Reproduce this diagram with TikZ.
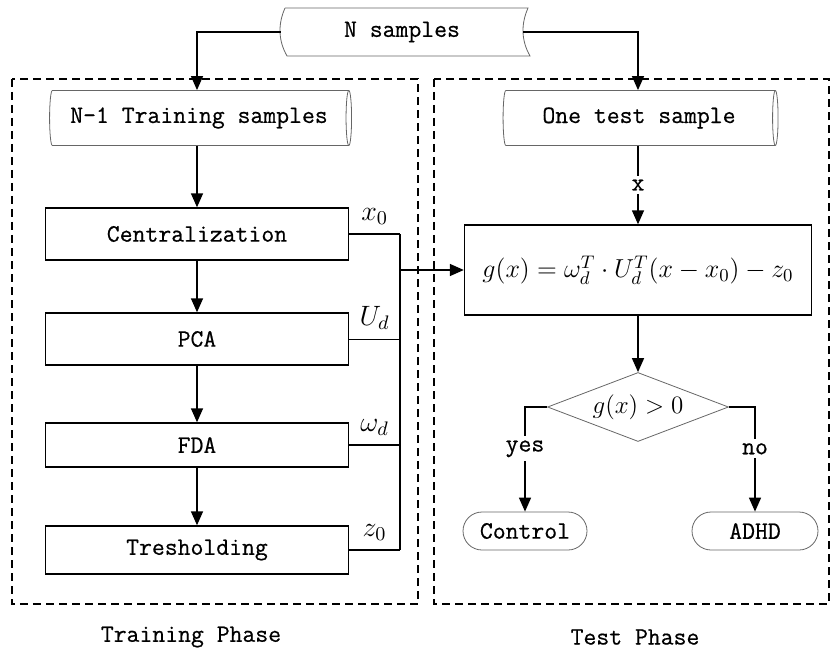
\RequirePackage{fix-cm}
\documentclass[tikz,border=0pt]{standalone}
\usepackage{fontspec}
\setmonofont{Latin Modern Mono}[FakeBold=0.6]
\usetikzlibrary{arrows.meta}
\usetikzlibrary{shapes.geometric,shapes.misc}
\begin{document}
\begin{tikzpicture}[x=.5pt,y=.5pt,
  every node/.style={font=\ttfamily\fontsize{12.5}{14}\selectfont},
  procbox/.style={draw,line width=.7pt,minimum width=151.5pt,minimum height=26pt,inner sep=0pt},
  store/.style={cylinder,draw=gray!80!black,shape aspect=.26,minimum width=27.5pt,inner sep=0pt},
  term/.style={rounded rectangle,draw=gray!80!black,minimum height=19pt,inner sep=0pt},
  flow/.style={line width=.75pt,->,>={Triangle[length=7pt,width=6pt]}},
  phase/.style={dashed,dash pattern=on 4pt off 2.5pt,line width=.75pt}]
\useasboundingbox (0,0) rectangle (834,-652);
\draw[phase] (12,-79) rectangle (418,-604);
\draw[phase] (434,-79) rectangle (829,-604);
\node (trainlbl) at (191,-637) {Training Phase};
\node (testlbl) at (635,-637) {Test Phase};
\draw[gray!80!black] (285,-8) -- (528,-8) .. controls (521,-24) and (521,-40) .. (530,-56) -- (287,-56) .. controls (278,-40) and (278,-24) .. (285,-8);
\node[minimum width=121pt,minimum height=24pt] (nsamp) at (402,-32) {N samples};
\node[store,minimum height=151pt] (train) at (199,-118) {N-1 Training samples};
\node[store,minimum height=137.5pt] (onetest) at (639,-118) {One test sample};
\draw[flow] (nsamp.west) -| (train.north -| 197,0);
\draw[flow] (nsamp.east) -| (onetest.north -| 638,0);
\foreach \name/\txt/\y/\h in {cent/Centralization/234/26, pca/PCA/339/26, fda/FDA/445/22, thr/Tresholding/550/24}
  \node[procbox,minimum height=\h pt] (\name) at (197,-\y) {\txt};
\draw[flow] (train.south -| 197,0) -- (cent);
\draw[flow] (cent) -- (pca);
\draw[flow] (pca) -- (fda);
\draw[flow] (fda) -- (thr);
\coordinate (bustop) at (400,-234);
\coordinate (busbot) at (400,-550);
\coordinate (busout) at (400,-270);
\draw[line width=.75pt] (bustop) -- (busbot);
\foreach \name/\lab/\w in {cent/x_0/.75pt, pca/U_d/.4pt, fda/\omega_d/.75pt, thr/z_0/.75pt}
  \draw[line width=\w] (\name.east) -- node[above=1pt,font=\fontsize{14}{16}\selectfont]{$\lab$} (\name.east -| busbot);
\node[draw,line width=.7pt,minimum width=173.5pt,minimum height=45pt,font=\fontsize{13}{16}\selectfont] (gbox) at (638,-270)
  {$g\bigl(x\bigr)=\omega_d^T\cdot U_d^T(x-x_0)-z_0$};
\draw[flow] (busout) -- (gbox);
\draw[flow] (onetest.south -| 638,0) -- node[fill=white,inner sep=2pt]{x} (gbox);
\node[diamond,draw=gray!80!black,aspect=2.6,minimum width=90.5pt,minimum height=34.5pt,inner sep=0pt,font=\fontsize{12.5}{15}\selectfont] (test) at (638,-407) {$g\bigl(x\bigr)>0$};
\draw[flow] (gbox) -- (test);
\node[term,minimum width=62pt] (ctrl) at (525,-531) {Control};
\node[term,minimum width=63pt] (adhd) at (755,-531) {ADHD};
\draw[flow] (test.west) -| node[pos=.7,fill=white,inner sep=2pt]{yes} (ctrl);
\draw[flow] (test.east) -| node[pos=.7,fill=white,inner sep=2pt]{no} (adhd);
\end{tikzpicture}
\end{document}
